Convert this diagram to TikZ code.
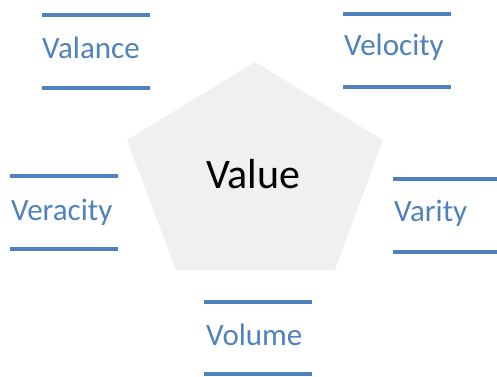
\documentclass[tikz,border=0pt]{standalone}
\usepackage{fontspec}
\setmainfont{Carlito}
\definecolor{vblue}{RGB}{79,129,189}
\definecolor{pgray}{RGB}{240,240,240}
\tikzset{
  lbl/.style={anchor=base west,inner sep=0pt,text=vblue,font=\fontsize{31}{36}\selectfont},
  rule/.style={draw=vblue,line width=3.2pt},
  center/.style={anchor=base west,inner sep=0pt,text=black,font=\fontsize{42}{48}\selectfont}
}
\begin{document}
\begin{tikzpicture}[x=1pt,y=-1pt]
\useasboundingbox (0,0) rectangle (497,376);
\fill[pgray] (255,62) coordinate (p1) -- (383,140) coordinate (p2) -- (335,270) coordinate (p3) -- (176,270) coordinate (p4) -- (127,140) coordinate (p5) -- cycle;
\node[center] (value) at (206,188) {Value};
% Valance
\node[lbl] (valance) at (42,58) {Valance};
\draw[rule] (42,15) -- (150,15);
\draw[rule] (42,88) -- (150,88);
% Velocity
\node[lbl] (velocity) at (344,55) {Velocity};
\draw[rule] (343,14) -- (451,14);
\draw[rule] (343,87) -- (451,87);
% Veracity
\node[lbl] (veracity) at (11,220) {Veracity};
\draw[rule] (10,176) -- (118,176);
\draw[rule] (10,249) -- (118,249);
% Varity
\node[lbl] (varity) at (394,221) {Varity};
\draw[rule] (393,179) -- (497,179);
\draw[rule] (393,252) -- (497,252);
% Volume
\node[lbl] (volume) at (206,345) {Volume};
\draw[rule] (204,302) -- (312,302);
\draw[rule] (204,374) -- (312,374);
\end{tikzpicture}
\end{document}
